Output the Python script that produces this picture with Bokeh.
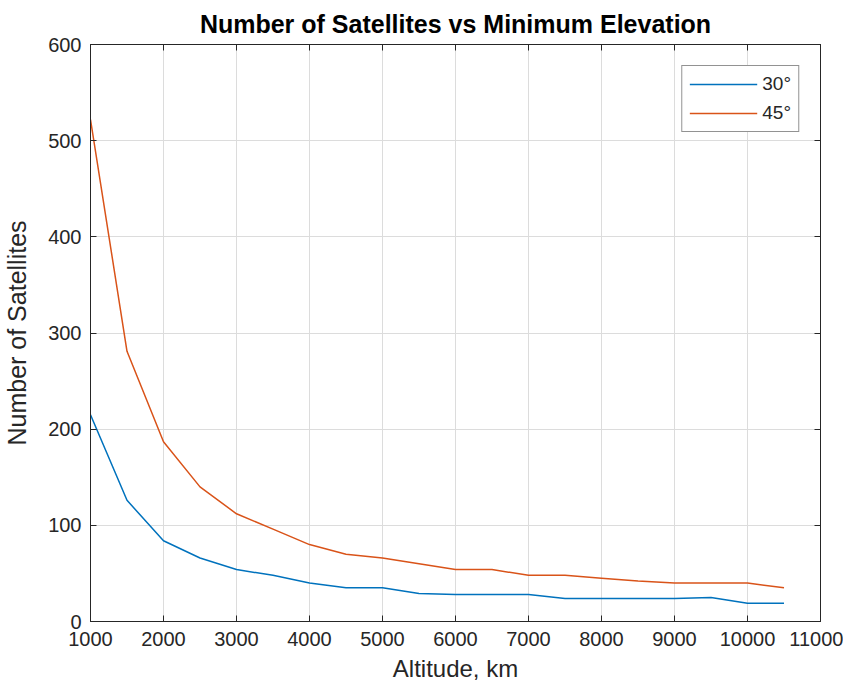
from bokeh.plotting import figure
from bokeh.models import Range1d, LinearAxis, FixedTicker, Legend, LegendItem
from bokeh.embed import file_html
from bokeh.resources import INLINE

altitude = [1000, 1500, 2000, 2500, 3000, 3500, 4000, 4500, 5000, 5500, 6000,
            6500, 7000, 7500, 8000, 8500, 9000, 9500, 10000, 10500]
sats_30 = [215, 126, 84, 66, 54, 48, 40, 35, 35, 29, 28, 28, 28, 24, 24, 24, 24, 25, 19, 19]
sats_45 = [522, 281, 187, 140, 112, 96, 80, 70, 66, 60, 54, 54, 48, 48, 45, 42, 40, 40, 40, 35]
x_ticks = [1000, 2000, 3000, 4000, 5000, 6000, 7000, 8000, 9000, 10000, 11000]
y_ticks = [0, 100, 200, 300, 400, 500, 600]

FONT = "Liberation Sans"
TXT = "#262626"
BLUE = "#0072BD"
ORANGE = "#D95319"

p = figure(width=843, height=684, output_backend="svg", toolbar_location=None,
           x_range=Range1d(1000, 11000), y_range=Range1d(0, 600),
           title="Number of Satellites vs Minimum Elevation",
           min_border_left=89, min_border_right=23, min_border_top=43, min_border_bottom=63)

p.title.align = "center"
p.title.text_font = FONT
p.title.text_font_size = "25px"
p.title.text_font_style = "bold"
p.title.text_color = "#000000"
p.title.standoff = 14

p.outline_line_color = TXT
p.outline_line_alpha = 1
p.background_fill_color = "white"
p.border_fill_color = "white"

for ax in (p.xaxis[0], p.yaxis[0]):
    ax.major_label_text_font = FONT
    ax.major_label_text_font_size = "20px"
    ax.major_label_text_color = TXT
    ax.axis_label_text_font = FONT
    ax.axis_label_text_font_style = "normal"
    ax.axis_label_text_color = TXT
    ax.axis_line_color = TXT
    ax.major_tick_line_color = TXT
    ax.major_tick_in = 6
    ax.major_tick_out = 0
    ax.minor_tick_line_color = None

p.xaxis.ticker = FixedTicker(ticks=x_ticks)
p.yaxis.ticker = FixedTicker(ticks=y_ticks)
p.xaxis.axis_label = "Altitude, km"
p.yaxis.axis_label = "Number of Satellites"
p.xaxis.axis_label_text_font_size = "24px"
p.yaxis.axis_label_text_font_size = "25px"
p.xaxis.major_label_standoff = 10
p.yaxis.major_label_standoff = 9
p.xaxis.axis_label_standoff = 6
p.yaxis.axis_label_standoff = 14

top = LinearAxis(ticker=FixedTicker(ticks=x_ticks),
                 major_label_overrides={t: "" for t in x_ticks},
                 major_tick_in=6, major_tick_out=0, major_label_standoff=0,
                 major_tick_line_color=TXT, axis_line_color=TXT, minor_tick_line_color=None)
right = LinearAxis(ticker=FixedTicker(ticks=y_ticks),
                   major_label_overrides={t: "" for t in y_ticks},
                   major_tick_in=6, major_tick_out=0, major_label_standoff=0,
                   major_tick_line_color=TXT, axis_line_color=TXT, minor_tick_line_color=None)
p.add_layout(top, "above")
p.add_layout(right, "right")

p.xgrid.ticker = FixedTicker(ticks=x_ticks)
p.ygrid.ticker = FixedTicker(ticks=y_ticks)
p.grid.grid_line_color = "#dcdcdc"
p.grid.grid_line_width = 1

r30 = p.line(altitude, sats_30, line_color=BLUE, line_width=1.5)
r45 = p.line(altitude, sats_45, line_color=ORANGE, line_width=1.5)

legend = Legend(items=[LegendItem(label="30°", renderers=[r30]),
                       LegendItem(label="45°", renderers=[r45])],
                location="top_right")
legend.label_text_font = FONT
legend.label_text_font_size = "19px"
legend.label_text_color = TXT
legend.border_line_color = TXT
legend.border_line_width = 1
legend.background_fill_alpha = 1
legend.glyph_width = 68
legend.glyph_height = 20
legend.label_height = 20
legend.spacing = 7
legend.padding = 7
legend.margin = 21
legend.label_standoff = 5
p.add_layout(legend, "center")

open("out.html", "w").write(file_html(p, INLINE))
